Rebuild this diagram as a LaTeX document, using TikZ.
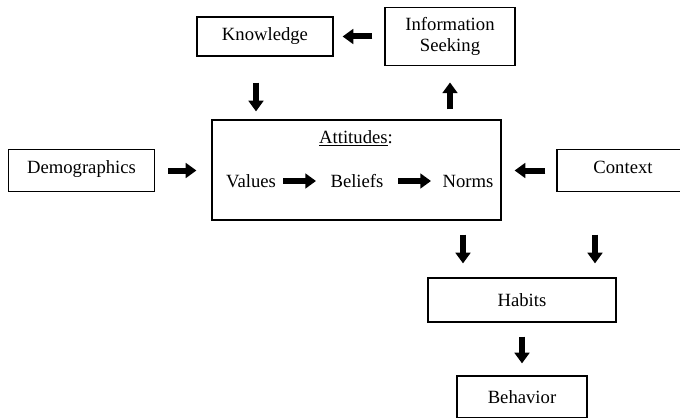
\documentclass[tikz,border=0pt]{standalone}
\usepackage{fontspec}
\setmainfont{Liberation Serif}
\usetikzlibrary{arrows.meta}

\def \boxline {0.9pt}
\def \knwshift {-6.75pt}

\begin{document}
\begin{tikzpicture}[x=0.75pt, y=-0.75pt,
  font=\fontsize{14}{16}\selectfont,
  box/.style={draw, line width=\boxline, inner sep=0pt, align=center},
  word/.style={inner sep=0pt},
  blk/.style={line width=4.5pt, -{Triangle[width=11pt,length=8pt]}}]
\useasboundingbox (0,0) rectangle (680,417);

\node[box, minimum width=102pt, minimum height=29.25pt] (knw) at (265,36.5) {Knowledge};
\node[box, minimum width=97.5pt, minimum height=44pt] (info) at (450,36.5) {Information\\Seeking};
\node[box, minimum width=216.75pt, minimum height=75pt] (att) at (356.5,170) {};
\node[box, minimum width=110pt, minimum height=32pt, text depth=4.5pt] (demo) at (81.5,170.5) {Demographics};
\node[box, minimum width=99pt, minimum height=32pt, text depth=4.5pt] (ctx) at (623,170.5) {Context};
\node[box, minimum width=141pt, minimum height=33pt] (hab) at (522,300) {Habits};
\node[box, minimum width=97.5pt, minimum height=31.5pt] (beh) at (522,397) {Behavior};

\node[word] (title) at (356,138) {\underline{Attitudes}:};
\node[word] (val) at (251,181) {Values};
\node[word] (bel) at (357,181) {Beliefs};
\node[word] (nrm) at (468,181) {Norms};

\draw[blk, shorten <=9pt, shorten >=6.75pt] (info.west) -- (knw.east);
\draw[blk, shorten <=19.5pt, shorten >=6pt] ([xshift=\knwshift]knw.south) -- ([xshift=\knwshift]knw.south |- att.north);
\draw[blk, shorten <=7.5pt, shorten >=12pt] (info.south |- att.north) -- (info.south);
\draw[blk, shorten <=9.75pt, shorten >=11.25pt] (demo.east) -- (demo.east -| att.west);
\draw[blk, shorten <=8.25pt, shorten >=9.75pt] (ctx.west) -- (ctx.west -| att.east);
\draw[blk, shorten <=24pt, shorten >=30.75pt] (val.center) -- (bel.center);
\draw[blk, shorten <=30.75pt, shorten >=27.75pt] (bel.center) -- (nrm.center);
\draw[blk, shorten <=10.5pt, shorten >=10.5pt] ([xshift=-44.25pt]hab.north |- att.south) -- ([xshift=-44.25pt]hab.north);
\draw[blk, shorten <=10.5pt, shorten >=10.5pt] ([xshift=54.75pt]hab.north |- att.south) -- ([xshift=54.75pt]hab.north);
\draw[blk, shorten <=10.5pt, shorten >=9pt] (hab.south) -- (beh.north);
\end{tikzpicture}
\end{document}
